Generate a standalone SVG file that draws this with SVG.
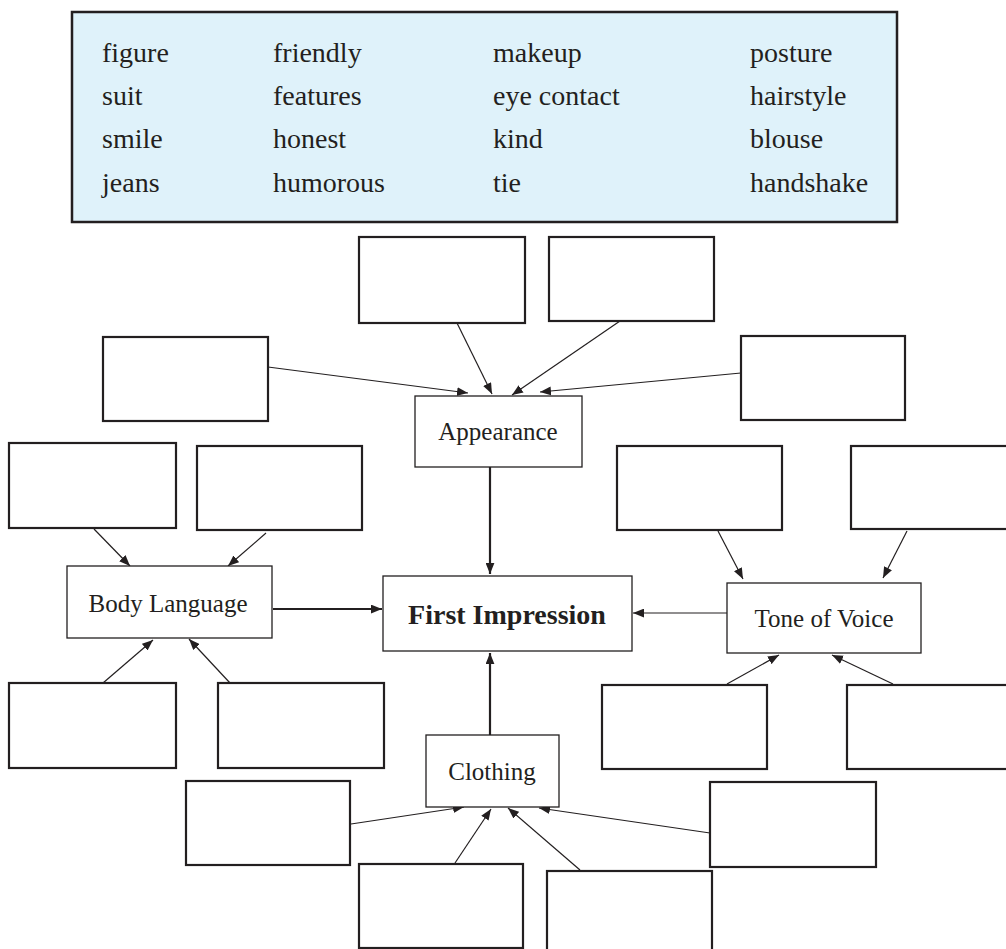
<svg xmlns="http://www.w3.org/2000/svg" width="1006" height="949" viewBox="0 0 1006 949">
<style>
.blank{fill:#ffffff;stroke:#231f20;stroke-width:2.2}
.lbl{fill:#ffffff;stroke:#231f20;stroke-width:1.3}
.t{font-family:"Liberation Serif","Times New Roman",serif;fill:#231f20}
.word{font-size:28px}
.label{font-size:25px;text-anchor:middle}
.main{font-size:28px;font-weight:bold;text-anchor:middle}
.thin{stroke:#231f20;stroke-width:1.2;fill:none;marker-end:url(#ah)}
.thick{stroke:#231f20;stroke-width:2.2;fill:none;marker-end:url(#ah)}
</style>
<defs>
<marker id="ah" viewBox="0 0 10 8" refX="10" refY="4" markerWidth="11" markerHeight="9" markerUnits="userSpaceOnUse" orient="auto">
<path d="M0,0 L10,4 L0,8 z" fill="#231f20"/>
</marker>
</defs>
<rect width="1006" height="949" fill="#ffffff"/>
<g id="wordbank">
<rect x="72" y="12" width="825" height="210" fill="#dff2fa" stroke="#231f20" stroke-width="2.5"/>
<g class="t word">
<text x="102" y="62">figure</text>
<text x="102" y="105">suit</text>
<text x="102" y="148">smile</text>
<text x="102" y="192">jeans</text>
<text x="273" y="62">friendly</text>
<text x="273" y="105">features</text>
<text x="273" y="148">honest</text>
<text x="273" y="192">humorous</text>
<text x="493" y="62">makeup</text>
<text x="493" y="105">eye contact</text>
<text x="493" y="148">kind</text>
<text x="493" y="192">tie</text>
<text x="750" y="62">posture</text>
<text x="750" y="105">hairstyle</text>
<text x="750" y="148">blouse</text>
<text x="750" y="192">handshake</text>
</g>
</g>
<g id="connectors">
<line class="thin" x1="268" y1="367" x2="468" y2="393"/>
<line class="thin" x1="457" y1="323" x2="492" y2="394"/>
<line class="thin" x1="620" y1="321" x2="512" y2="395"/>
<line class="thin" x1="741" y1="373" x2="540" y2="392"/>
<line class="thick" x1="490" y1="467" x2="490" y2="574"/>
<line class="thin" x1="94" y1="529" x2="130" y2="566"/>
<line class="thin" x1="266" y1="533" x2="228" y2="566"/>
<line class="thin" x1="103" y1="683" x2="153" y2="640"/>
<line class="thin" x1="230" y1="683" x2="189" y2="639"/>
<line class="thick" x1="273" y1="609" x2="382" y2="609"/>
<line class="thin" x1="718" y1="531" x2="743" y2="579"/>
<line class="thin" x1="907" y1="531" x2="883" y2="578"/>
<line class="thin" x1="727" y1="684" x2="779" y2="655"/>
<line class="thin" x1="893" y1="684" x2="832" y2="655"/>
<line class="thin" x1="727" y1="613" x2="633" y2="613"/>
<line class="thick" x1="490" y1="735" x2="490" y2="653"/>
<line class="thin" x1="351" y1="824" x2="464" y2="807"/>
<line class="thin" x1="455" y1="863" x2="491" y2="809"/>
<line class="thin" x1="580" y1="870" x2="508" y2="808"/>
<line class="thin" x1="710" y1="833" x2="539" y2="808"/>
</g>
<g id="first-impression">
<rect class="lbl" x="383" y="576" width="249" height="75"/>
<text class="t main" x="507" y="624">First Impression</text>
</g>
<g id="appearance">
<rect class="lbl" x="415" y="396" width="167" height="71"/>
<text class="t label" x="498" y="440">Appearance</text>
</g>
<g id="body-language">
<rect class="lbl" x="67" y="566" width="205" height="72"/>
<text class="t label" x="168" y="612">Body Language</text>
</g>
<g id="tone-of-voice">
<rect class="lbl" x="727" y="583" width="194" height="70"/>
<text class="t label" x="824" y="627">Tone of Voice</text>
</g>
<g id="clothing">
<rect class="lbl" x="426" y="735" width="133" height="72"/>
<text class="t label" x="492" y="780">Clothing</text>
</g>
<g id="appearance-blank-1"><rect class="blank" x="103" y="337" width="165" height="84"/></g>
<g id="appearance-blank-2"><rect class="blank" x="359" y="237" width="166" height="86"/></g>
<g id="appearance-blank-3"><rect class="blank" x="549" y="237" width="165" height="84"/></g>
<g id="appearance-blank-4"><rect class="blank" x="741" y="336" width="164" height="84"/></g>
<g id="body-blank-1"><rect class="blank" x="9" y="443" width="167" height="85"/></g>
<g id="body-blank-2"><rect class="blank" x="197" y="446" width="165" height="84"/></g>
<g id="body-blank-3"><rect class="blank" x="9" y="683" width="167" height="85"/></g>
<g id="body-blank-4"><rect class="blank" x="218" y="683" width="166" height="85"/></g>
<g id="voice-blank-1"><rect class="blank" x="617" y="446" width="165" height="84"/></g>
<g id="voice-blank-2"><rect class="blank" x="851" y="446" width="165" height="83"/></g>
<g id="voice-blank-3"><rect class="blank" x="602" y="685" width="165" height="84"/></g>
<g id="voice-blank-4"><rect class="blank" x="847" y="685" width="165" height="84"/></g>
<g id="clothing-blank-1"><rect class="blank" x="186" y="781" width="164" height="84"/></g>
<g id="clothing-blank-2"><rect class="blank" x="359" y="864" width="164" height="84"/></g>
<g id="clothing-blank-3"><rect class="blank" x="547" y="871" width="165" height="84"/></g>
<g id="clothing-blank-4"><rect class="blank" x="710" y="782" width="166" height="85"/></g>
</svg>
